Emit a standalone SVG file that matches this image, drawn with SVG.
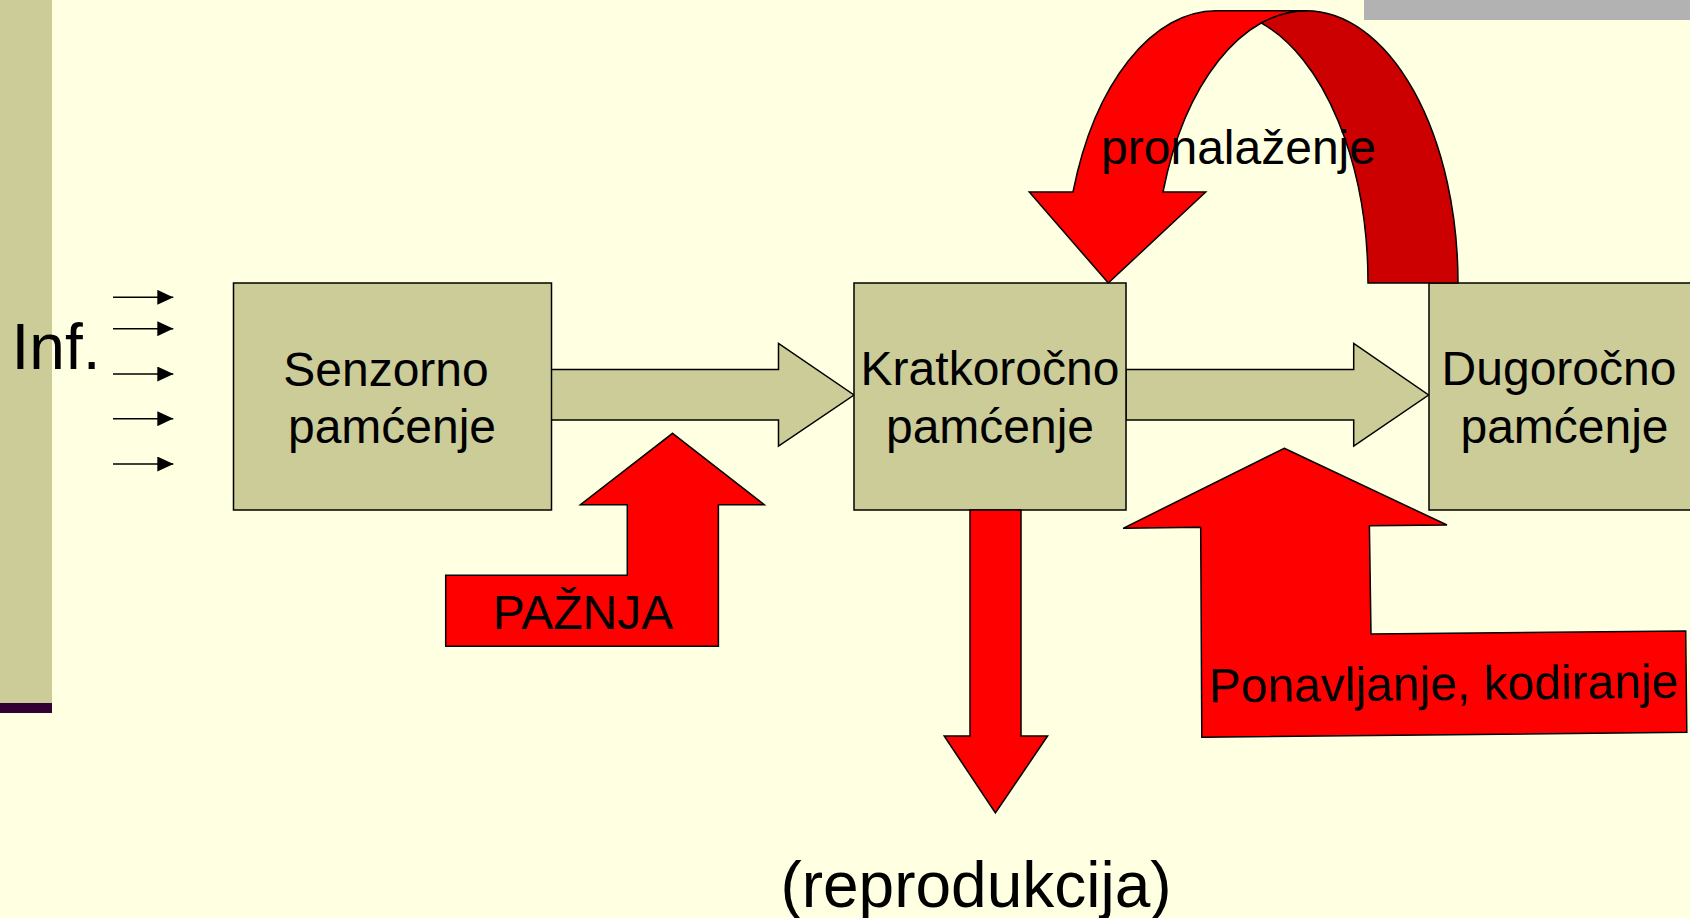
<svg xmlns="http://www.w3.org/2000/svg" width="1690" height="918" viewBox="0 0 1690 918">
<style>
.box{fill:#CCCC99;stroke:#000;stroke-width:1.5}
.tan{fill:#CCCC99;stroke:#000;stroke-width:1.5;stroke-linejoin:miter}
.red{fill:#FF0000;stroke:#000;stroke-width:1.5;stroke-linejoin:miter}
.dred{fill:#CC0000;stroke:#000;stroke-width:1.5}
.t{font-family:"Liberation Sans",Arial,sans-serif;font-size:48px;fill:#000;text-anchor:middle}
.big{font-size:64px}
.in{stroke:#000;stroke-width:1.6}
</style>
<defs>
<marker id="ah" viewBox="0 0 16 15" refX="16" refY="7.5" markerWidth="16" markerHeight="15" markerUnits="userSpaceOnUse" orient="auto">
<path d="M0,0 L16,7.5 L0,15 Z" fill="#000"/>
</marker>
</defs>
<rect x="0" y="0" width="1690" height="918" fill="#FFFFE1"/>
<rect x="0" y="0" width="52" height="703" fill="#CCCC99"/>
<rect x="0" y="703" width="52" height="10" fill="#330033"/>
<rect x="1364" y="0" width="326" height="20" fill="#B2B2B2"/>
<text class="t big" x="56" y="369" id="inf-label">Inf.</text>
<g id="connectors">
<line class="in" x1="113" y1="297.3" x2="173.3" y2="297.3" marker-end="url(#ah)"/>
<line class="in" x1="113" y1="328.7" x2="173.3" y2="328.7" marker-end="url(#ah)"/>
<line class="in" x1="113" y1="374" x2="173.3" y2="374" marker-end="url(#ah)"/>
<line class="in" x1="113" y1="418.7" x2="173.3" y2="418.7" marker-end="url(#ah)"/>
<line class="in" x1="113" y1="464" x2="173.3" y2="464" marker-end="url(#ah)"/>
<polygon class="tan" points="551,369.5 778.5,369.5 778.5,343.5 854,395 778.5,446 778.5,420 551,420"/>
<polygon class="tan" points="1126,369.5 1353.7,369.5 1353.7,343.5 1428.6,395 1353.7,446 1353.7,420 1126,420"/>
</g>
<g id="senzorno">
<rect class="box" x="233.5" y="283" width="318" height="227"/>
<text class="t" x="386" y="386">Senzorno</text>
<text class="t" x="392" y="443">pamćenje</text>
</g>
<g id="kratkorocno">
<rect class="box" x="854" y="283" width="272" height="227"/>
<text class="t" x="990" y="385">Kratkoročno</text>
<text class="t" x="990" y="443">pamćenje</text>
</g>
<g id="dugorocno">
<rect class="box" x="1429" y="283" width="272" height="227"/>
<text class="t" x="1559" y="385">Dugoročno</text>
<text class="t" x="1564.5" y="443">pamćenje</text>
</g>
<g id="paznja">
<polygon class="red" points="672.6,433.3 764.2,504.7 718.4,504.7 718.4,646.3 445.7,646.3 445.7,575.3 627.3,575.3 627.3,504.7 580.4,504.7"/>
<text class="t" x="583" y="628.7">PAŽNJA</text>
</g>
<g id="reprodukcija">
<polygon class="red" points="970,510 1021,510 1021,736 1047.6,736 995.4,813 944.2,736 970,736"/>
<text class="t big" x="976" y="907">(reprodukcija)</text>
</g>
<g id="pronalazenje">
<path class="dred" d="M1306,10.7 A152 272.3 0 0 1 1458,283 L1368,283 A152 272.3 0 0 0 1261,22.9 A152 272.3 0 0 1 1306,10.7 Z"/>
<path class="red" d="M1073,192 A152 272.3 0 0 1 1216,10.7 L1306,10.7 A152 272.3 0 0 0 1163,192 L1205.7,192 L1108.3,283 L1029.3,192 Z"/>
<text class="t" x="1238.5" y="164">pronalaženje</text>
</g>
<g id="ponavljanje">
<polygon class="red" points="1284.2,448.3 1447,525 1369.4,525.7 1371,634 1685.7,631 1686.8,732.3 1201.8,737.3 1200.7,527.3 1123.1,528.3"/>
<text class="t" x="1444" y="700" transform="rotate(-0.55 1444 700)">Ponavljanje, kodiranje</text>
</g>
</svg>
